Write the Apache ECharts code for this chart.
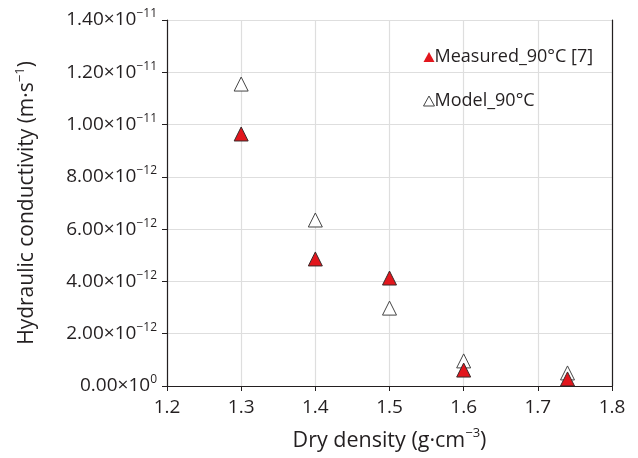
<!DOCTYPE html>
<html style="height: 100%">
<head>
<meta charset="utf-8">
<script src="https://cdn.jsdelivr.net/npm/echarts@6/dist/echarts.min.js"></script>
</head>
<body style="height: 100%; margin: 0; background: #fff">
<div id="container" style="width: 638px; height: 458px"></div>
<script type="text/javascript">
// dry density (g/cm3)
var density = [1.3, 1.4, 1.5, 1.6, 1.74];
// hydraulic conductivity, in units of 1e-12 m/s
var measured = [9.64, 4.86, 4.13, 0.61, 0.27];
var model = [11.55, 6.35, 2.98, 0.96, 0.50];
var yTicks = {
  0: ['0.00', '0'], 2: ['2.00', '\u221212'], 4: ['4.00', '\u221212'], 6: ['6.00', '\u221212'],
  8: ['8.00', '\u221212'], 10: ['1.00', '\u221211'], 12: ['1.20', '\u221211'], 14: ['1.40', '\u221211']
};

var font = 'Open Sans';
var ink = '#231f20';
var myChart = echarts.init(document.getElementById('container'));

function pairs(xs, ys) {
  return xs.map(function (x, i) { return [x, ys[i]]; });
}

var option = {
  animation: false,
  textStyle: { fontFamily: font },
  grid: { left: 167, right: 26, top: 20, bottom: 72 },
  legend: {
    orient: 'vertical',
    left: 418,
    top: 43,
    itemGap: 26,
    itemWidth: 11,
    itemHeight: 10,
    textStyle: { fontSize: 18, color: ink, fontFamily: font, padding: [0, 0, 0, -5] },
    data: [
      { name: 'Measured_90\u00b0C [7]', itemStyle: { borderWidth: 0 } },
      { name: 'Model_90\u00b0C', itemStyle: { borderWidth: 1, borderColor: '#444' } }
    ]
  },
  xAxis: {
    type: 'value',
    min: 1.2, max: 1.8, interval: 0.1,
    name: 'Dry density (g\u00b7cm{sup|\u22123})',
    nameLocation: 'middle',
    nameGap: 41,
    nameTextStyle: {
      fontSize: 21.5, color: ink, fontFamily: font,
      rich: { sup: { fontSize: 13, verticalAlign: 'top', padding: [0, 0, 14, 0] } }
    },
    axisLine: { show: true, lineStyle: { color: ink, width: 1.2 } },
    axisTick: { show: true, length: 5, lineStyle: { color: ink } },
    axisLabel: { fontSize: 19, color: ink, margin: 12, formatter: function (v) { return v.toFixed(1); } },
    splitLine: { show: true, lineStyle: { color: '#dedede', width: 1.2 } }
  },
  yAxis: {
    type: 'value',
    min: 0, max: 14, interval: 2,
    name: 'Hydraulic conductivity (m\u00b7s{sup|\u22121})',
    nameLocation: 'middle',
    nameGap: 126,
    nameTextStyle: {
      fontSize: 21, color: ink, fontFamily: font,
      rich: { sup: { fontSize: 13, verticalAlign: 'top', padding: [0, 0, 14, 0] } }
    },
    axisLine: { show: true, lineStyle: { color: ink, width: 1.2 } },
    axisTick: { show: true, length: 5, lineStyle: { color: ink } },
    axisLabel: {
      fontSize: 19, color: ink, margin: 10,
      formatter: function (v) {
        var t = yTicks[Math.round(v)];
        return t[0] + '\u00d710{sup|' + t[1] + '}';
      },
      rich: { sup: { fontSize: 12, verticalAlign: 'top', padding: [0, 0, 12, 0], color: ink } }
    },
    splitLine: { show: true, lineStyle: { color: '#dedede', width: 1.2 } }
  },
  series: [
    {
      name: 'Model_90\u00b0C',
      type: 'scatter',
      symbol: 'triangle',
      symbolSize: 14,
      itemStyle: { color: '#ffffff', borderColor: '#444444', borderWidth: 1, opacity: 1 },
      data: pairs(density, model)
    },
    {
      name: 'Measured_90\u00b0C [7]',
      type: 'scatter',
      symbol: 'triangle',
      symbolSize: 14,
      itemStyle: { color: '#e2161d', borderColor: '#3a2a2a', borderWidth: 1, opacity: 1 },
      data: pairs(density, measured)
    }
  ]
};

// draw a full box around the plot area
option.xAxis = [option.xAxis, {
  type: 'value', position: 'top', min: 1.2, max: 1.8,
  axisLine: { show: true, lineStyle: { color: ink, width: 1.2 } },
  axisTick: { show: false }, axisLabel: { show: false }, splitLine: { show: false }
}];
option.yAxis = [option.yAxis, {
  type: 'value', position: 'right', min: 0, max: 14,
  axisLine: { show: true, lineStyle: { color: ink, width: 1.2 } },
  axisTick: { show: false }, axisLabel: { show: false }, splitLine: { show: false }
}];

myChart.setOption(option);
</script>
</body>
</html>
